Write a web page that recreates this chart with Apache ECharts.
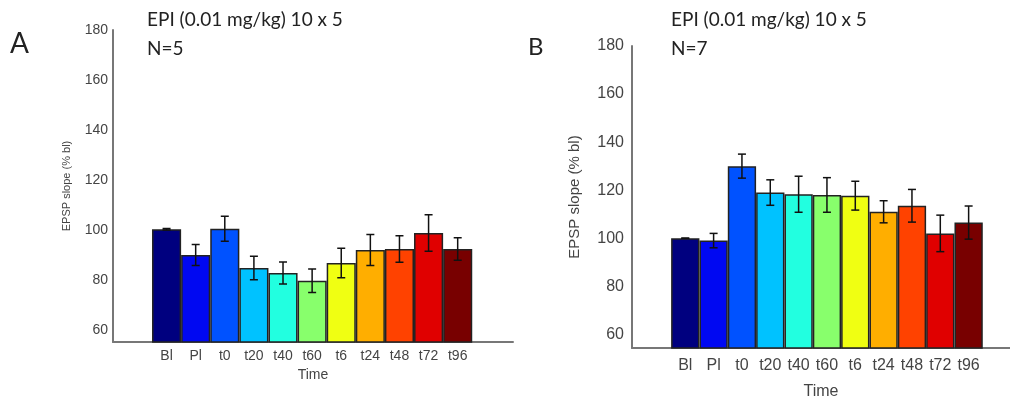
<!DOCTYPE html>
<html>
<head>
<meta charset="utf-8">
<script src="https://cdn.jsdelivr.net/npm/echarts@6/dist/echarts.min.js"></script>
<style>
  html, body { margin: 0; padding: 0; background: #fff; }
  #chart { width: 1010px; height: 399px; }
</style>
</head>
<body>
<div id="chart"></div>
<script>
// categories & values
const categories = ['Bl', 'Pl', 't0', 't20', 't40', 't60', 't6', 't24', 't48', 't72', 't96']
const barColors = ['#00007f', '#0008f2', '#0052ff', '#00c2ff', '#22ffe0', '#88ff6c', '#f0ff12', '#ffae00', '#ff4200', '#e00000', '#780000']

const meanA = [100.3, 90.0, 100.5, 84.8, 82.8, 79.7, 86.8, 92.0, 92.4, 98.8, 92.4]
const errA = [0.3, 4.2, 5.0, 4.7, 4.4, 4.7, 5.9, 6.2, 5.3, 7.3, 4.5]

const meanB = [100.0, 99.0, 130.0, 119.0, 118.3, 118.0, 117.7, 111.0, 113.5, 102.0, 106.5]
const errB = [0, 3.0, 5.0, 5.3, 7.5, 7.2, 6.0, 4.6, 6.8, 7.6, 6.9]

const yTicks = [60, 80, 100, 120, 140, 160, 180]

const chart = echarts.init(document.getElementById('chart'))

const labelFont = 'Liberation Sans'
const titleFont = 'Lato'

// error bar drawn from [index, mean, err]
const errorBarRender = (params, api) => {
  const x = api.value(0)
  const m = api.value(1)
  const e = api.value(2)
  const top = api.coord([x, m + e])
  const bot = api.coord([x, m - e])
  const hw = 4
  const style = { stroke: '#111', lineWidth: 1.5 }
  return {
    type: 'group',
    children: [
      { type: 'line', shape: { x1: top[0], y1: top[1], x2: bot[0], y2: bot[1] }, style },
      { type: 'line', shape: { x1: top[0] - hw, y1: top[1], x2: top[0] + hw, y2: top[1] }, style },
      { type: 'line', shape: { x1: bot[0] - hw, y1: bot[1], x2: bot[0] + hw, y2: bot[1] }, style }
    ]
  }
}

const panel = (idx, means, errs, p) => {
  const grid = { left: p.left, top: p.top, width: p.width, height: p.height, outerBoundsMode: 'none' }
  const xAxis = {
    gridIndex: idx,
    type: 'value',
    min: p.xmin,
    max: p.xmax,
    name: 'Time',
    nameLocation: 'middle',
    nameGap: p.timeGap,
    nameTextStyle: { fontFamily: labelFont, fontSize: p.fs, color: '#444' },
    axisLine: { show: true, onZero: false, lineStyle: { color: '#777', width: 2 } },
    axisTick: { show: false },
    splitLine: { show: false },
    axisLabel: {
      customValues: categories.map((c, i) => i),
      formatter: v => categories[Math.round(v)] || '',
      margin: p.xMargin,
      fontFamily: labelFont,
      fontSize: p.fs,
      color: '#444'
    }
  }
  const yAxis = {
    gridIndex: idx,
    type: 'value',
    min: p.ymin,
    max: 180,
    name: 'EPSP slope (% bl)',
    nameLocation: 'middle',
    nameGap: p.nameGap,
    nameTextStyle: { fontFamily: labelFont, fontSize: p.nameFs, color: '#444' },
    axisLine: { show: true, onZero: false, lineStyle: { color: '#777', width: 2 } },
    axisTick: { show: false },
    splitLine: { show: false },
    axisLabel: {
      customValues: yTicks,
      margin: p.yMargin,
      fontFamily: labelFont,
      fontSize: p.fs,
      color: '#444'
    }
  }
  const series = [
    {
      type: 'bar',
      xAxisIndex: idx,
      yAxisIndex: idx,
      barWidth: p.barW,
      data: means.map((v, i) => ({
        value: [i, v],
        itemStyle: { color: barColors[i], borderColor: '#222', borderWidth: 1.5 }
      }))
    },
    {
      type: 'custom',
      xAxisIndex: idx,
      yAxisIndex: idx,
      z: 5,
      encode: { x: 0, y: 1 },
      renderItem: errorBarRender,
      data: means.map((v, i) => [i, v, errs[i]])
    }
  ]
  return { grid, xAxis, yAxis, series }
}

const pA = panel(0, meanA, errA, {
  left: 113, top: 30, width: 400, height: 312,
  xmin: -1.84, xmax: 11.9, ymin: 55.2, barW: 29.1,
  fs: 14, nameFs: 11, nameGap: 41, yMargin: 5, xMargin: 7, timeGap: 24
})
const pB = panel(1, meanB, errB, {
  left: 632, top: 46, width: 378, height: 302,
  xmin: -1.88, xmax: 11.46, ymin: 54.3, barW: 28.3,
  fs: 16, nameFs: 15, nameGap: 50, yMargin: 8, xMargin: 10, timeGap: 36
})

const titleStyle = (size) => ({ fontFamily: titleFont, fontSize: size, fontWeight: 'normal', color: '#222' })

const option = {
  animation: false,
  backgroundColor: '#fff',
  title: [
    { text: 'A', left: 10, top: 30, padding: 0, textStyle: titleStyle(28) },
    { text: 'B', left: 528, top: 35, padding: 0, textStyle: titleStyle(24) },
    { text: 'EPI (0.01 mg/kg) 10 x 5\nN=5', left: 147, top: 6, padding: 0, textStyle: { ...titleStyle(19), lineHeight: 28.5 } },
    { text: 'EPI (0.01 mg/kg) 10 x 5\nN=7', left: 671, top: 6, padding: 0, textStyle: { ...titleStyle(19), lineHeight: 28.5 } }
  ],
  grid: [pA.grid, pB.grid],
  xAxis: [pA.xAxis, pB.xAxis],
  yAxis: [pA.yAxis, pB.yAxis],
  series: [...pA.series, ...pB.series]
}

chart.setOption(option)
</script>
</body>
</html>
